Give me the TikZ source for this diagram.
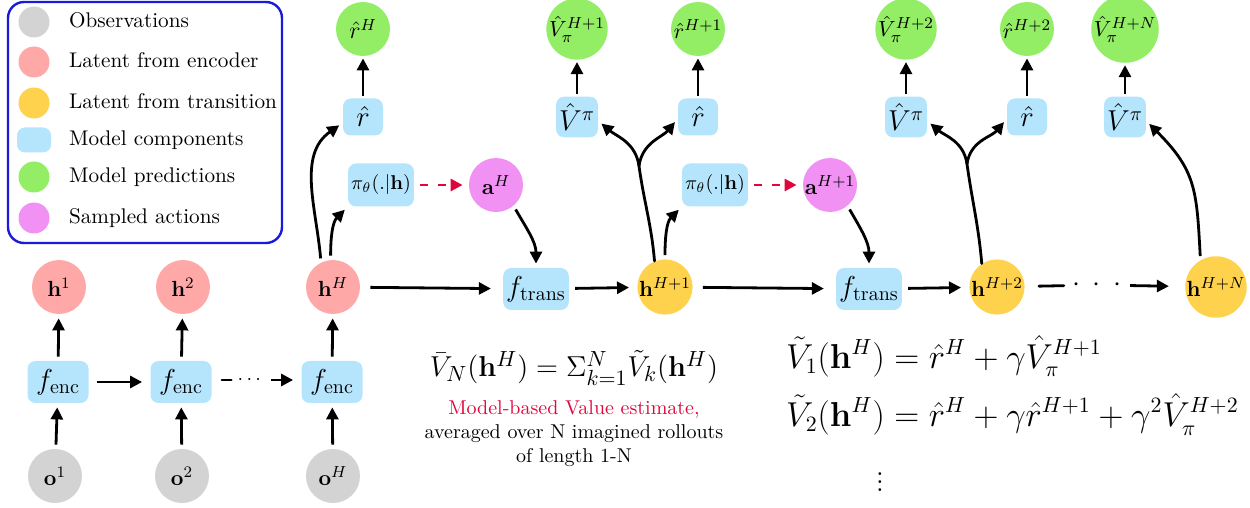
\documentclass[tikz,border=0pt]{standalone}
\usepackage{xcolor}
\usepackage{amsmath}
\usepackage{tikz}
\usetikzlibrary{positioning, arrows.meta, calc}
\definecolor{obsgray}{HTML}{D3D3D3}
\definecolor{encred}{HTML}{FFA8A8}
\definecolor{transgold}{HTML}{FFD24D}
\definecolor{compblue}{HTML}{B5E5FC}
\definecolor{predgreen}{HTML}{93EE66}
\definecolor{actpink}{HTML}{F191F4}
\definecolor{legendborder}{HTML}{1A1ADB}
\definecolor{samplered}{HTML}{E0063C}

\tikzset{
  ball/.style={circle, inner sep=0pt, minimum size=27pt, font=\fontsize{11}{13}\selectfont},
  obsnode/.style={ball, fill=obsgray},
  encnode/.style={ball, fill=encred},
  transnode/.style={ball, fill=transgold},
  prednode/.style={ball, fill=predgreen},
  actnode/.style={ball, fill=actpink},
  comp/.style={fill=compblue, rounded corners=4pt, inner xsep=1.5pt,
               minimum width=20pt, minimum height=18.5pt, font=\Large},
  fnbox/.style={comp, minimum width=30.5pt, minimum height=21pt},
  legtext/.style={anchor=west, font=\fontsize{10.6}{12}\selectfont, text height=1.6ex, text depth=.25ex},
  conn/.style={line width=1.4pt, -{Triangle[length=6pt,width=6pt]},
               shorten >=2pt, shorten <=2pt},
  trunk/.style={line width=1.4pt, line cap=round},
}

\begin{document}
\begin{tikzpicture}[x=0.5pt, y=-0.5pt]
  \useasboundingbox (0,0) rectangle (1250,508);

  % legend
  \draw[legendborder, line width=1.2pt, rounded corners=8pt] (8,2) rectangle (282,243);
  \node[obsnode, minimum size=15.5pt] (leg1) at (34,22) {};
  \node[legtext] (legtxt1) at (62,22) {Observations};
  \node[encnode, minimum size=15.5pt] (leg2) at (34,62) {};
  \node[legtext] (legtxt2) at (62,62) {Latent from encoder};
  \node[transnode, minimum size=15.5pt] (leg3) at (34,103) {};
  \node[legtext] (legtxt3) at (62,103) {Latent from transition};
  \node[fill=compblue, rounded corners=4pt, minimum width=17pt, minimum height=12.5pt] (leg4) at (34,140) {};
  \node[legtext] (legtxt4) at (62,140) {Model components};
  \node[prednode, minimum size=15.5pt] (leg5) at (34,177) {};
  \node[legtext] (legtxt5) at (62,177) {Model predictions};
  \node[actnode, minimum size=15.5pt] (leg6) at (34,218) {};
  \node[legtext] (legtxt6) at (62,218) {Sampled actions};

  % encoder
  \node[obsnode] (o1) at (55,476) {$\mathbf{o}^1$};
  \node[obsnode] (o2) at (182,476) {$\mathbf{o}^2$};
  \node[obsnode] (oH) at (333,476) {$\mathbf{o}^H$};
  \node[fnbox] (fenc1) at (58,382) {$f_{\text{enc}}$};
  \node[fnbox] (fenc2) at (181,382) {$f_{\text{enc}}$};
  \node[fnbox] (fenc3) at (332,382) {$f_{\text{enc}}$};
  \node[encnode] (h1) at (59,287) {$\mathbf{h}^1$};
  \node[encnode] (h2) at (183,287) {$\mathbf{h}^2$};
  \node[encnode] (hH) at (333,287) {$\mathbf{h}^H$};
  \node[inner xsep=3pt] (encdots) at (251,380) {$\cdots$};

  % imagined rollout
  \node[comp] (rbox1) at (363,117) {$\hat{r}$};
  \node[prednode, font=\large] (rpred1) at (363,29) {$\hat{r}^H$};
  \node[comp, font=\normalsize, minimum width=30.5pt, minimum height=21.5pt] (pibox1) at (381,185) {$\pi_\theta(.|\mathbf{h})$};
  \node[actnode] (aH) at (496,185) {$\mathbf{a}^H$};
  \node[fnbox] (ftrans1) at (536,289) {$f_{\text{trans}}$};
  \node[transnode] (hH1) at (665,287) {$\mathbf{h}^{H+1}$};
  \node[comp] (vbox1) at (577,117) {$\hat{V}^\pi$};
  \node[prednode] (vpred1) at (577,29) {$\hat{V}_\pi^{H+1}$};
  \node[comp] (rbox2) at (698,117) {$\hat{r}$};
  \node[prednode] (rpred2) at (698,29) {$\hat{r}^{H+1}$};
  \node[comp, font=\normalsize, minimum width=30.5pt, minimum height=21.5pt] (pibox2) at (715,185) {$\pi_\theta(.|\mathbf{h})$};
  \node[actnode] (aH1) at (830,185) {$\mathbf{a}^{H+1}$};
  \node[fnbox] (ftrans2) at (869,289) {$f_{\text{trans}}$};
  \node[transnode] (hH2) at (997,287) {$\mathbf{h}^{H+2}$};
  \node[comp] (vbox2) at (906,117) {$\hat{V}^\pi$};
  \node[prednode] (vpred2) at (906,29) {$\hat{V}_\pi^{H+2}$};
  \node[comp] (rbox3) at (1027,117) {$\hat{r}$};
  \node[prednode] (rpred3) at (1027,29) {$\hat{r}^{H+2}$};
  \node[comp] (vbox3) at (1125,117) {$\hat{V}^\pi$};
  \node[prednode] (vpredN) at (1125,29) {$\hat{V}_\pi^{H+N}$};
  \node[transnode] (hHN) at (1216,287) {$\mathbf{h}^{H+N}$};
  \node[inner xsep=4pt, font=\Large] (transdots) at (1097,285) {$\cdotp\hskip4pt\cdotp\hskip4pt\cdotp$};
  \coordinate (split1) at (639,166);
  \coordinate (split2) at (967,164);

  % encoder arrows
  \draw[conn] (o1) -- (fenc1);
  \draw[conn] (o2) -- (fenc2);
  \draw[conn] (oH) -- (fenc3);
  \draw[conn] (fenc1) -- (h1);
  \draw[conn] (fenc2) -- (h2);
  \draw[conn] (fenc3) -- (hH);
  \draw[conn, shorten <=4pt, shorten >=4pt] (fenc1) -- (fenc2);
  \draw[trunk, shorten <=5pt] (fenc2.east |- encdots) -- (encdots);
  \draw[conn, shorten <=0pt, shorten >=4pt] (encdots) -- (fenc3.west |- encdots);

  % rollout arrows
  \draw[conn] (hH.116) to[out=95, in=215] ([yshift=-3pt]rbox1.west);
  \draw[conn] (hH.95) to[out=90, in=225] (pibox1.south west);
  \draw[conn, samplered, dash pattern=on 4pt off 5pt, shorten <=3pt, shorten >=3pt] (pibox1) -- (aH);
  \draw[conn] (aH.-50) to[out=-60, in=90] (ftrans1.north);
  \draw[conn, shorten <=5pt, shorten >=6pt] (hH) -- (ftrans1);
  \draw[conn, shorten <=3pt, shorten >=4pt] (ftrans1) -- (hH1);
  \draw[trunk] (hH1.112) to[out=95, in=-82] (split1);
  \draw[conn, shorten <=0pt] (split1) to[out=98, in=-40] ([yshift=-2pt]vbox1.east);
  \draw[conn, shorten <=0pt] (split1) to[out=82, in=230] ([yshift=-1pt]rbox2.west);
  \draw[conn] (hH1.90) to[out=90, in=225] (pibox2.south west);
  \draw[conn, samplered, dash pattern=on 4pt off 5pt, shorten <=3pt, shorten >=3pt] (pibox2) -- (aH1);
  \draw[conn] (aH1.-50) to[out=-60, in=90] (ftrans2.north);
  \draw[conn, shorten <=5pt, shorten >=6pt] (hH1) -- (ftrans2);
  \draw[conn, shorten <=3pt, shorten >=4pt] (ftrans2) -- (hH2);
  \draw[trunk] (hH2.123) to[out=95, in=-82] (split2);
  \draw[conn, shorten <=0pt] (split2) to[out=98, in=-40] ([yshift=-2pt]vbox2.east);
  \draw[conn, shorten <=0pt] (split2) to[out=82, in=230] ([yshift=-1pt]rbox3.west);
  \draw[trunk, shorten <=7pt] (hH2) -- (transdots);
  \draw[conn, shorten <=0pt, shorten >=8pt] (transdots) -- (hHN);
  \draw[conn] (hHN.120) to[out=93, in=-45, looseness=1.2] ([yshift=-2pt]vbox3.east);

  % heads
  \draw[conn, shorten <=1pt, shorten >=1pt] (rbox1) -- (rpred1);
  \draw[conn, shorten <=1pt, shorten >=1pt] (vbox1) -- (vpred1);
  \draw[conn, shorten <=1pt, shorten >=1pt] (rbox2) -- (rpred2);
  \draw[conn, shorten <=1pt, shorten >=1pt] (vbox2) -- (vpred2);
  \draw[conn, shorten <=1pt, shorten >=1pt] (rbox3) -- (rpred3);
  \draw[conn, shorten <=1pt, shorten >=1pt] (vbox3) -- (vpredN);

  % value estimate
  \node[font=\fontsize{15.8}{19}\selectfont] (vbar) at (574,368) {$\bar{V}_N(\mathbf{h}^H) = \Sigma_{k=1}^N \tilde{V}_k(\mathbf{h}^H)$};
  \node[align=center, font=\normalsize] (vbartxt) at (574,434)
    {\textcolor{samplered}{Model-based Value estimate,}\\ averaged over N imagined rollouts\\ of length 1-N};
  \node[anchor=west, font=\fontsize{16.3}{19.5}\selectfont] (vtilde) at (779,387) {$\begin{aligned}
      \tilde{V}_1(\mathbf{h}^H) &= \hat{r}^H + \gamma \hat{V}_\pi^{H+1}\\[3pt]
      \tilde{V}_2(\mathbf{h}^H) &= \hat{r}^H + \gamma \hat{r}^{H+1} + \gamma^2 \hat{V}_\pi^{H+2}
    \end{aligned}$};
  \node[font=\LARGE] (vdots) at (880,476) {$\vdots$};
\end{tikzpicture}
\end{document}
